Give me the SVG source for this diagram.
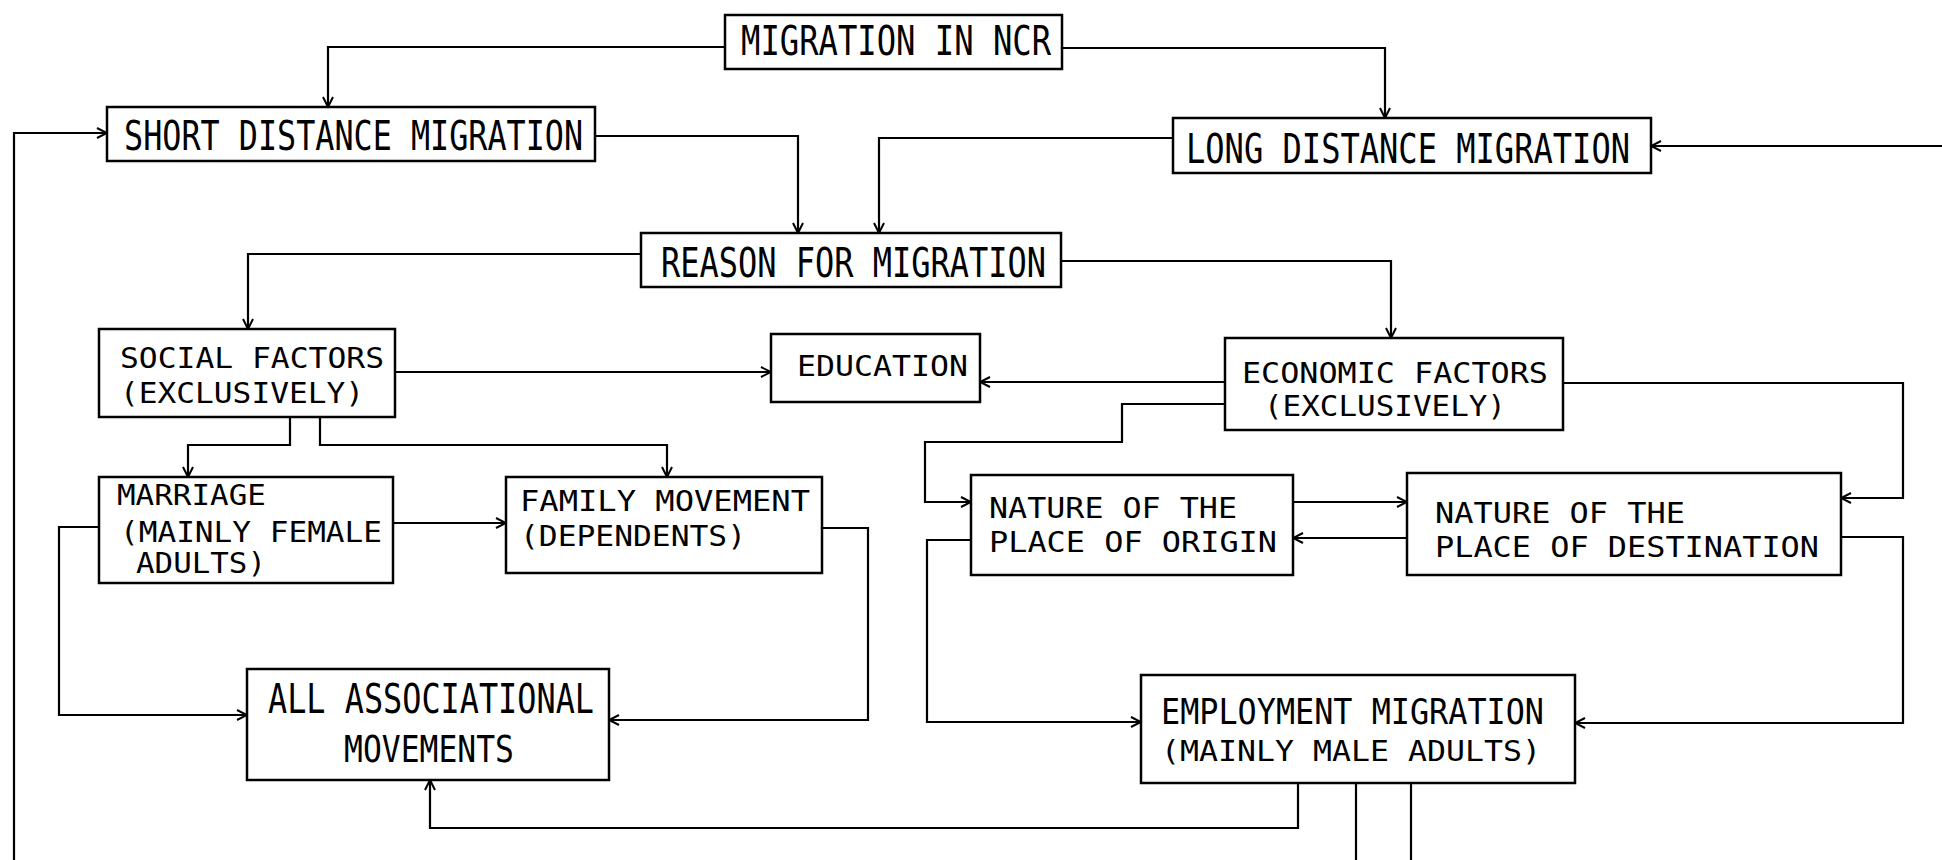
<svg xmlns="http://www.w3.org/2000/svg" width="1942" height="860" viewBox="0 0 1942 860">
  <style>
    .box { fill: #fff; stroke: #000; stroke-width: 2.5; }
    .t { font-family: "DejaVu Sans Mono", "Liberation Mono", monospace; fill: #000; }
    .lg { font-size: 40px; }
    .md { font-size: 29px; }
    .c { fill: none; stroke: #000; stroke-width: 2.2; }
  </style>
  <defs>
    <marker id="arr" viewBox="0 0 12 12" refX="11" refY="6" markerWidth="12" markerHeight="12" markerUnits="userSpaceOnUse" orient="auto">
      <path d="M1,1 L11,6 L1,11" fill="none" stroke="#000" stroke-width="2"/>
    </marker>
  </defs>
  <rect width="1942" height="860" fill="#fff"/>

  <!-- connectors -->
  <g id="connectors" class="c" marker-end="url(#arr)">
    <path d="M725,47 H328 V107"/>
    <path d="M1062,48 H1385 V118"/>
    <path d="M595,136 H798 V233"/>
    <path d="M1173,138 H879 V233"/>
    <path d="M641,254 H248 V329"/>
    <path d="M1061,261 H1391 V338"/>
    <path d="M395,372 H771"/>
    <path d="M1225,382 H980"/>
    <path d="M290,417 V445 H188 V477"/>
    <path d="M320,417 V445 H667 V477"/>
    <path d="M393,523 H506"/>
    <path d="M99,527 H59 V715 H247"/>
    <path d="M822,528 H868 V720 H609"/>
    <path d="M1225,404 H1122 V442 H925 V502 H971"/>
    <path d="M1563,383 H1903 V498 H1841"/>
    <path d="M1293,502 H1407"/>
    <path d="M1407,538 H1293"/>
    <path d="M971,540 H927 V722 H1141"/>
    <path d="M1841,537 H1903 V723 H1575"/>
    <path d="M1298,783 V828 H430 V780"/>
    <path d="M14,860 V133 H107"/>
    <path d="M1942,146 H1651"/>
    <path d="M1356,783 V860" marker-end="none"/>
    <path d="M1411,783 V860" marker-end="none"/>
  </g>

  <g id="ncr">
    <rect class="box" x="725" y="15" width="337" height="54"/>
    <text class="t lg" x="741" y="55" textLength="310" lengthAdjust="spacingAndGlyphs">MIGRATION IN NCR</text>
  </g>
  <g id="short-distance">
    <rect class="box" x="107" y="107" width="488" height="54"/>
    <text class="t lg" x="124" y="150" textLength="459" lengthAdjust="spacingAndGlyphs">SHORT DISTANCE MIGRATION</text>
  </g>
  <g id="long-distance">
    <rect class="box" x="1173" y="118" width="478" height="55"/>
    <text class="t lg" x="1186" y="163" textLength="444" lengthAdjust="spacingAndGlyphs">LONG DISTANCE MIGRATION</text>
  </g>
  <g id="reason">
    <rect class="box" x="641" y="233" width="420" height="54"/>
    <text class="t lg" x="661" y="277" textLength="385" lengthAdjust="spacingAndGlyphs">REASON FOR MIGRATION</text>
  </g>
  <g id="social">
    <rect class="box" x="99" y="329" width="296" height="88"/>
    <text class="t md" x="120" y="368" textLength="264" lengthAdjust="spacingAndGlyphs">SOCIAL FACTORS</text>
    <text class="t md" x="120" y="403" textLength="244" lengthAdjust="spacingAndGlyphs">(EXCLUSIVELY)</text>
  </g>
  <g id="education">
    <rect class="box" x="771" y="334" width="209" height="68"/>
    <text class="t md" x="797" y="376" textLength="171" lengthAdjust="spacingAndGlyphs">EDUCATION</text>
  </g>
  <g id="economic">
    <rect class="box" x="1225" y="338" width="338" height="92"/>
    <text class="t md" x="1242" y="383" textLength="306" lengthAdjust="spacingAndGlyphs">ECONOMIC FACTORS</text>
    <text class="t md" x="1264" y="416" textLength="242" lengthAdjust="spacingAndGlyphs">(EXCLUSIVELY)</text>
  </g>
  <g id="marriage">
    <rect class="box" x="99" y="477" width="294" height="106"/>
    <text class="t md" x="117" y="505" textLength="149" lengthAdjust="spacingAndGlyphs">MARRIAGE</text>
    <text class="t md" x="120" y="542" textLength="262" lengthAdjust="spacingAndGlyphs">(MAINLY FEMALE</text>
    <text class="t md" x="136" y="573" textLength="130" lengthAdjust="spacingAndGlyphs">ADULTS)</text>
  </g>
  <g id="family">
    <rect class="box" x="506" y="477" width="316" height="96"/>
    <text class="t md" x="520" y="511" textLength="290" lengthAdjust="spacingAndGlyphs">FAMILY MOVEMENT</text>
    <text class="t md" x="520" y="546" textLength="226" lengthAdjust="spacingAndGlyphs">(DEPENDENTS)</text>
  </g>
  <g id="origin">
    <rect class="box" x="971" y="475" width="322" height="100"/>
    <text class="t md" x="989" y="518" textLength="248" lengthAdjust="spacingAndGlyphs">NATURE OF THE</text>
    <text class="t md" x="989" y="552" textLength="288" lengthAdjust="spacingAndGlyphs">PLACE OF ORIGIN</text>
  </g>
  <g id="destination">
    <rect class="box" x="1407" y="473" width="434" height="102"/>
    <text class="t md" x="1435" y="523" textLength="250" lengthAdjust="spacingAndGlyphs">NATURE OF THE</text>
    <text class="t md" x="1435" y="557" textLength="384" lengthAdjust="spacingAndGlyphs">PLACE OF DESTINATION</text>
  </g>
  <g id="associational">
    <rect class="box" x="247" y="669" width="362" height="111"/>
    <text class="t" font-size="40" x="268" y="713" textLength="326" lengthAdjust="spacingAndGlyphs">ALL ASSOCIATIONAL</text>
    <text class="t" font-size="37" x="344" y="762" textLength="170" lengthAdjust="spacingAndGlyphs">MOVEMENTS</text>
  </g>
  <g id="employment">
    <rect class="box" x="1141" y="675" width="434" height="108"/>
    <text class="t" font-size="36" x="1161" y="724" textLength="383" lengthAdjust="spacingAndGlyphs">EMPLOYMENT MIGRATION</text>
    <text class="t" font-size="29" x="1161" y="761" textLength="380" lengthAdjust="spacingAndGlyphs">(MAINLY MALE ADULTS)</text>
  </g>
</svg>
